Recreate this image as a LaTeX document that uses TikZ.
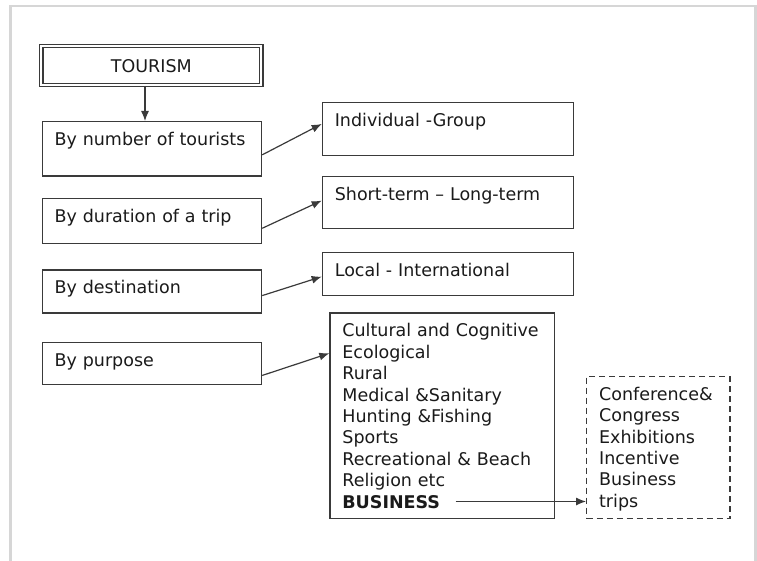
\documentclass[tikz,border=0pt]{standalone}
\usepackage{fontspec}
\setmainfont{DejaVu Sans}
\usetikzlibrary{arrows.meta}
\definecolor{linegray}{HTML}{3A3A3A}
\definecolor{framegray}{HTML}{D6D6D6}
\definecolor{inkgray}{HTML}{1A1A1A}
\tikzset{
  box/.style={draw=linegray, line width=1.2pt, anchor=north west, inner xsep=12.5pt,
    inner ysep=8pt, text height=16pt, align=left, text=inkgray},
  dashbox/.style={box, dash pattern=on 6pt off 4pt},
  arr/.style={draw=linegray, line width=1.2pt, -{Latex[length=10pt,width=8pt]}}
}
\begin{document}
\begin{tikzpicture}[x=1pt, y=-1pt, font=\fontsize{17.5}{21.4}\selectfont]
      \useasboundingbox (0,0) rectangle (757,561);
      \draw[framegray, line width=2.6pt] (10.5,561) -- (10.5,6.2) -- (755.7,6.2) -- (755.7,561);
      \draw
        (151.3,65.5) node[draw=linegray, double, double distance=1.8pt, line width=1.3pt,
          minimum width=220pt, minimum height=39.4pt, inner sep=0pt, text=inkgray,
          text height=14.6pt, text depth=0pt] (tour){TOURISM}
        (41.5,121) node[box, text width=194.5pt, text depth=22.5pt] (num){By number of tourists}
        (41.5,198.3) node[box, text width=194.5pt, text depth=12.4pt] (dur){By duration of a trip}
        (41.5,269.3) node[box, text width=194.5pt, text depth=11pt] (dest){By destination}
        (41.5,341.7) node[box, text width=194.5pt, text depth=10.3pt] (purp){By purpose}
        (321.7,102.3) node[box, text width=226pt, text depth=20.7pt] (ind){Individual -Group}
        (321.7,175.7) node[box, text width=226pt, text depth=20.6pt] (term){Short-term \textendash{} Long-term}
        (321.7,251.7) node[box, text width=226pt, text depth=11.3pt] (loc){Local - International}
        (329.3,312.3) node[box, text width=199.7pt, text depth=173.4pt] (types){Cultural and Cognitive\\
          Ecological\\Rural\\Medical \&Sanitary\\Hunting \&Fishing\\Sports\\
          Recreational \& Beach\\Religion etc\\\textbf{BUSINESS}}
        (586,375.7) node[dashbox, text width=118.3pt, text depth=110pt] (biz){Conference\&\\
          Congress\\Exhibitions\\Incentive\\Business\\trips};
      \coordinate (busi) at (455.7,501.5);
      \begin{scope}[arr]
        \draw ([xshift=-6.3pt]tour.south) to ([xshift=-6.3pt]tour.south |- num.north);
        \draw ([yshift=-6pt]num.east) to ([yshift=5.3pt]ind.west);
        \draw ([yshift=-7.2pt]dur.east) to ([yshift=2pt]term.west);
        \draw ([yshift=-4.2pt]dest.east) to ([yshift=-2.7pt]loc.west);
        \draw ([yshift=-12pt]purp.east) to ([yshift=-41pt]types.north west);
        \draw (busi) to (busi -| biz.west);
      \end{scope}
    \end{tikzpicture}
\end{document}
